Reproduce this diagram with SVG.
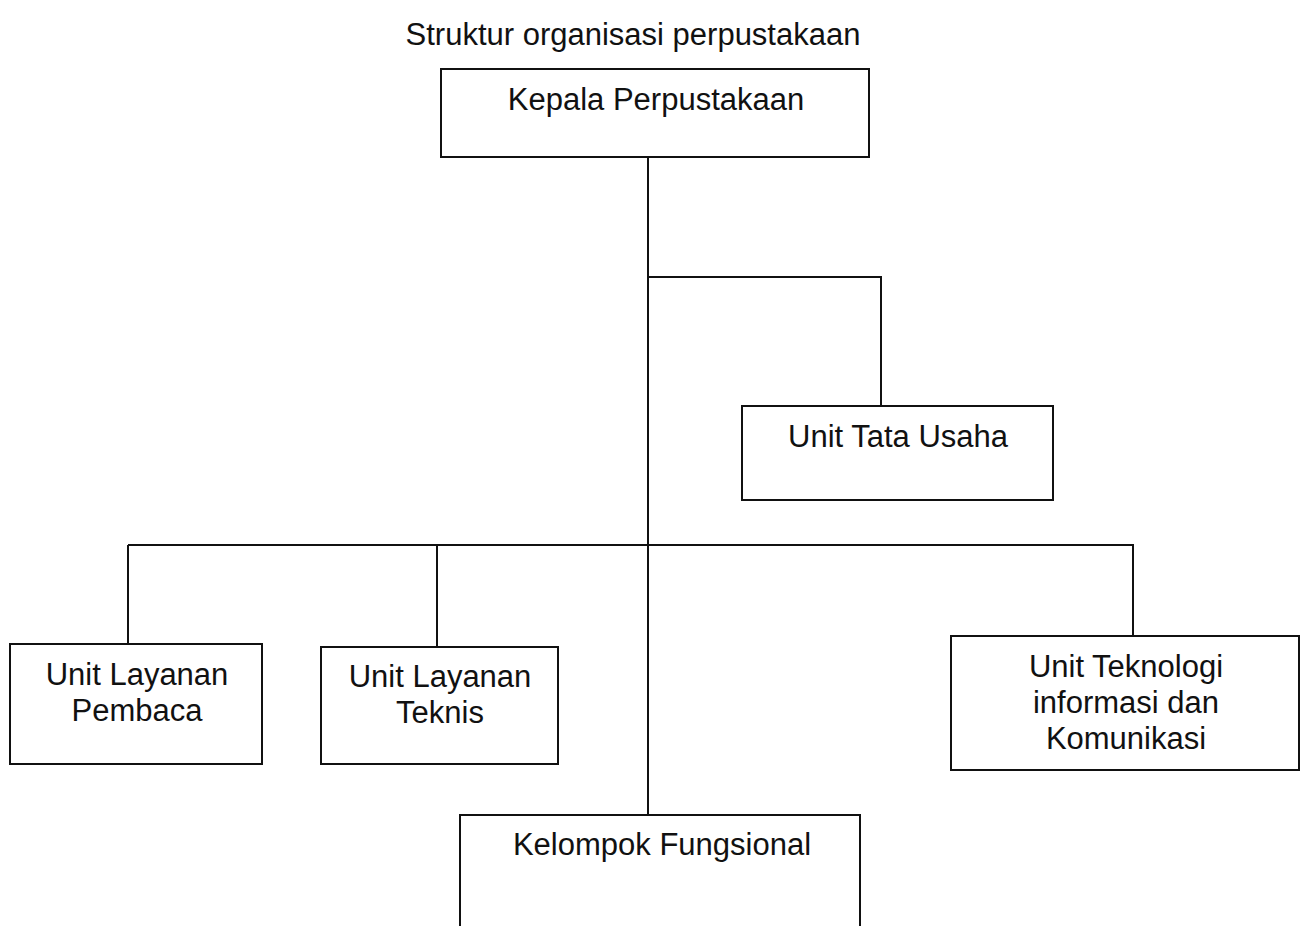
<svg xmlns="http://www.w3.org/2000/svg" width="1308" height="926" viewBox="0 0 1308 926">
<style>
.box{fill:#fff;stroke:#111;stroke-width:2}
.ln{fill:none;stroke:#111;stroke-width:2}
text{font-family:"Liberation Sans",Arial,sans-serif;font-size:31px;fill:#111;text-anchor:middle}
</style>
<rect width="1308" height="926" fill="#fff"/>
<text id="title" x="633" y="45">Struktur organisasi perpustakaan</text>
<g id="connectors">
<path class="ln" d="M648 157 V815"/>
<path class="ln" d="M648 277 H881 V406"/>
<path class="ln" d="M128 545 H1133 V636"/>
<path class="ln" d="M128 545 V644"/>
<path class="ln" d="M437 545 V647"/>
</g>
<g id="kepala">
<rect class="box" x="441" y="69" width="428" height="88"/>
<text x="656" y="110">Kepala Perpustakaan</text>
</g>
<g id="tata-usaha">
<rect class="box" x="742" y="406" width="311" height="94"/>
<text x="898" y="447">Unit Tata Usaha</text>
</g>
<g id="layanan-pembaca">
<rect class="box" x="10" y="644" width="252" height="120"/>
<text x="137" y="685">Unit Layanan</text>
<text x="137" y="721">Pembaca</text>
</g>
<g id="layanan-teknis">
<rect class="box" x="321" y="647" width="237" height="117"/>
<text x="440" y="687">Unit Layanan</text>
<text x="440" y="723">Teknis</text>
</g>
<g id="teknologi">
<rect class="box" x="951" y="636" width="348" height="134"/>
<text x="1126" y="677">Unit Teknologi</text>
<text x="1126" y="713">informasi dan</text>
<text x="1126" y="749">Komunikasi</text>
</g>
<g id="kelompok">
<path class="ln" d="M460 930 V815 H860 V930"/>
<text x="662" y="855">Kelompok Fungsional</text>
</g>
</svg>
